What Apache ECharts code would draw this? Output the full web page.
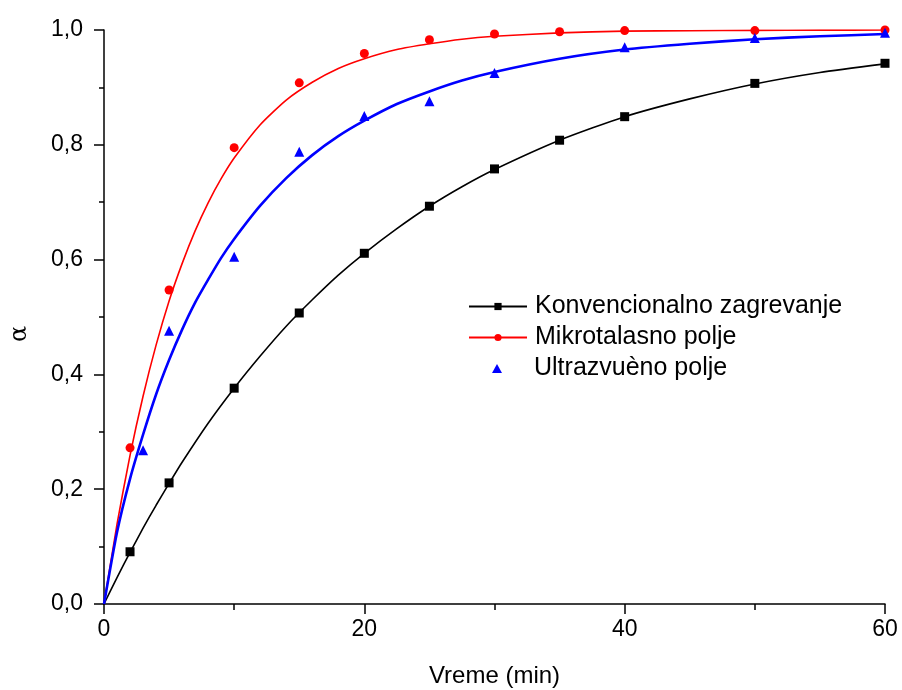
<!DOCTYPE html>
<html>
<head>
<meta charset="utf-8">
<script src="https://cdn.jsdelivr.net/npm/echarts@6/dist/echarts.min.js"></script>
<style>
  html, body { margin: 0; padding: 0; background: #fff; }
  #chart { width: 902px; height: 690px; }
</style>
</head>
<body>
<div id="chart"></div>
<script>
// Measured data points
const konvPoints = [[2,0.091],[5,0.211],[10,0.376],[15,0.507],[20,0.611],[25,0.693],[30,0.758],[35,0.808],[40,0.849],[50,0.907],[60,0.942]];
const mikroPoints = [[2,0.272],[5,0.547],[10,0.795],[15,0.908],[20,0.959],[25,0.983],[30,0.993],[35,0.997],[40,0.999],[50,0.999],[60,1.0]];
const ultraPoints = [[3,0.268],[5,0.476],[10,0.605],[15,0.788],[20,0.850],[25,0.876],[30,0.925],[40,0.970],[50,0.986],[60,0.995]];

// Fitted curves
const konvCurve = [[0,0],[1,0.046],[2,0.090],[3,0.132],[4,0.172],[5,0.210],[6,0.247],[8,0.315],[10,0.376],[12,0.432],[14,0.484],[16,0.530],[18,0.573],[20,0.611],[22.5,0.654],[25,0.693],[27.5,0.727],[30,0.757],[35,0.808],[40,0.849],[45,0.880],[50,0.906],[55,0.926],[60,0.941]];
const mikroCurve = [[0,0],[1,0.139],[2,0.259],[3,0.362],[4,0.451],[5,0.528],[6,0.593],[7,0.650],[8,0.699],[9,0.741],[10,0.777],[12,0.835],[14,0.878],[16,0.909],[18,0.933],[20,0.950],[22.5,0.966],[25,0.976],[27.5,0.984],[30,0.989],[35,0.995],[40,0.998],[45,0.9988],[50,0.9994],[55,0.9997],[60,0.9999]];
const ultraCurve = [[0,0],[1,0.125],[2,0.218],[3,0.295],[4,0.365],[5,0.425],[6,0.478],[7,0.525],[8,0.565],[9,0.603],[10,0.636],[12,0.694],[14,0.742],[16,0.782],[18,0.815],[20,0.842],[22.5,0.871],[25,0.893],[27.5,0.912],[30,0.927],[35,0.950],[40,0.966],[45,0.976],[50,0.984],[55,0.989],[60,0.993]];

const seriesNames = ['Konvencionalno zagrevanje', 'Mikrotalasno polje', 'Ultrazvuèno polje'];
const xTicks = { min: 0, max: 60, interval: 20 };
const yTicks = { min: 0, max: 1, interval: 0.2 };

const chart = echarts.init(document.getElementById('chart'));
const font = 'Liberation Sans, Arial, sans-serif';
const legendText = { fontFamily: font, fontSize: 25, color: '#000' };

chart.setOption({
  animation: false,
  backgroundColor: '#fff',
  grid: { left: 104, right: 17, top: 30, bottom: 86, containLabel: false, outerBoundsMode: 'none' },
  legend: [
    {
      orient: 'vertical',
      left: 468, top: 294, padding: 0,
      itemWidth: 58, itemHeight: 9, itemGap: 6,
      data: [seriesNames[0], seriesNames[1]],
      textStyle: Object.assign({ padding: [0, 0, 0, 3] }, legendText),
      selectedMode: false
    },
    {
      orient: 'vertical',
      left: 492, top: 356, padding: 0,
      itemWidth: 10, itemHeight: 9, itemGap: 6,
      data: [{ name: seriesNames[2], icon: 'triangle' }],
      textStyle: Object.assign({ padding: [0, 0, 0, 27] }, legendText),
      selectedMode: false
    }
  ],
  xAxis: {
    type: 'value', min: xTicks.min, max: xTicks.max, interval: xTicks.interval,
    name: 'Vreme (min)', nameLocation: 'middle', nameGap: 60,
    nameTextStyle: { fontFamily: font, fontSize: 24, color: '#000' },
    axisLine: { show: true, onZero: false, lineStyle: { color: '#000', width: 1.5 } },
    axisTick: { show: true, length: 10, lineStyle: { color: '#000', width: 1.5 } },
    minorTick: { show: true, splitNumber: 2, length: 6, lineStyle: { color: '#000', width: 1.5 } },
    splitLine: { show: false },
    axisLabel: { fontFamily: font, fontSize: 23, color: '#000', margin: 14 }
  },
  yAxis: {
    type: 'value', min: yTicks.min, max: yTicks.max, interval: yTicks.interval,
    name: 'α', nameLocation: 'middle', nameGap: 72, nameRotate: 90,
    nameTextStyle: { fontFamily: 'DejaVu Serif, serif', fontSize: 24, color: '#000', padding: [0, 34, 0, 0] },
    axisLine: { show: true, onZero: false, lineStyle: { color: '#000', width: 1.5 } },
    axisTick: { show: true, length: 10, lineStyle: { color: '#000', width: 1.5 } },
    minorTick: { show: true, splitNumber: 2, length: 5, lineStyle: { color: '#000', width: 1.5 } },
    splitLine: { show: false },
    axisLabel: { fontFamily: font, fontSize: 23, color: '#000', margin: 21,
      formatter: v => v.toFixed(1).replace('.', ',') }
  },
  series: [
    { name: seriesNames[0], type: 'line', data: konvCurve, smooth: 0.2, symbol: 'rect', symbolSize: 7, showSymbol: false,
      color: '#000', itemStyle: { color: '#000', opacity: 1 }, lineStyle: { color: '#000', width: 1.6 }, z: 2 },
    { name: seriesNames[1], type: 'line', data: mikroCurve, smooth: 0.2, symbol: 'circle', symbolSize: 7, showSymbol: false,
      color: '#ff0000', itemStyle: { color: '#ff0000', opacity: 1 }, lineStyle: { color: '#ff0000', width: 1.6 }, z: 2 },
    { name: 'ultraFit', type: 'line', data: ultraCurve, smooth: 0.2, symbol: 'none', showSymbol: false,
      color: '#0000ff', lineStyle: { color: '#0000ff', width: 2.6 }, z: 2 },
    { name: seriesNames[0], type: 'scatter', data: konvPoints, symbol: 'rect', symbolSize: 9,
      itemStyle: { color: '#000', opacity: 1 }, z: 3 },
    { name: seriesNames[1], type: 'scatter', data: mikroPoints, symbol: 'circle', symbolSize: 9,
      itemStyle: { color: '#ff0000', opacity: 1 }, z: 3 },
    { name: seriesNames[2], type: 'scatter', data: ultraPoints, symbol: 'triangle', symbolSize: 10,
      itemStyle: { color: '#0000ff', opacity: 1 }, z: 4 }
  ]
});
</script>
</body>
</html>
